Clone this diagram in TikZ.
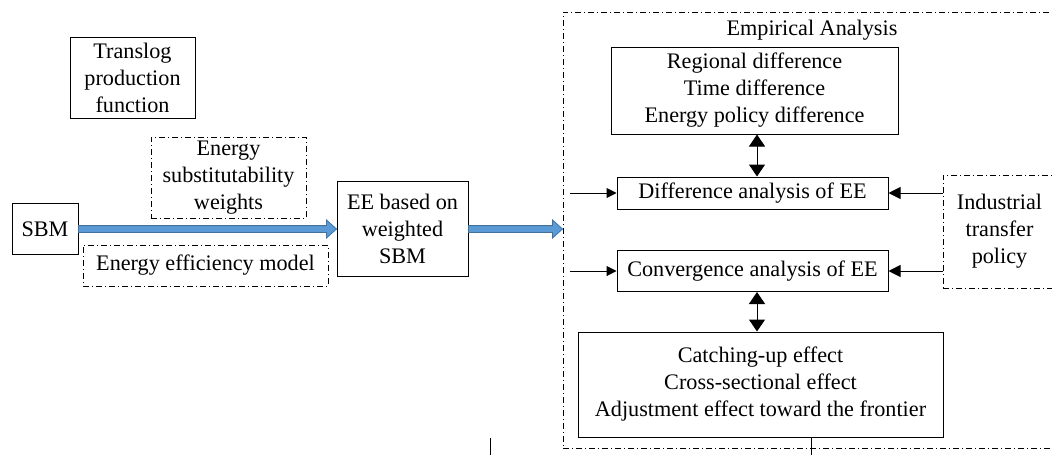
\documentclass[tikz,border=0pt]{standalone}
\usepackage{fontspec}
\setmainfont{Liberation Serif}
\newfontfamily\figfont{Liberation Serif}
\usetikzlibrary{arrows.meta, calc}
\definecolor{eeblue}{HTML}{5B9BD5}
\definecolor{eeblueline}{HTML}{41719C}
\tikzset{
  figtext/.style={font=\figfont\fontsize{11.1}{13.5}\selectfont},
  plainbox/.style={figtext, draw, line width=0.5pt, align=center, inner sep=0pt},
  dotbox/.style={plainbox, dash pattern=on 3pt off 1.5pt on 0.5pt off 1.5pt},
  dblarrow/.style={{Triangle[length=6pt,width=8pt]}-{Triangle[length=6pt,width=8pt]}, line width=0.5pt},
  thinarrow/.style={-{Triangle[length=5pt,width=5pt]}, line width=0.5pt},
  sidearrow/.style={-{Triangle[length=6pt,width=6pt]}, line width=0.5pt},
  fatarrow/.style={fill=eeblue, draw=eeblueline, line width=0.4pt}
}
\newcommand{\bluearrow}[2]{%
  \draw[fatarrow] let \p1=(#1), \p2=(#2) in
    (\x1,\y1+1.7pt) -- (\x2-5pt,\y1+1.7pt) -- (\x2-5pt,\y1+4.5pt) -- (\x2,\y1)
    -- (\x2-5pt,\y1-4.5pt) -- (\x2-5pt,\y1-1.7pt) -- (\x1,\y1-1.7pt) -- cycle;
}

\begin{document}
\begin{tikzpicture}[x=0.5pt, y=-0.5pt]
  \useasboundingbox (0,0) rectangle (1052,455);

  %% Model construction
  \node[plainbox, minimum width=62.5pt, minimum height=40.5pt] (translog) at (132.5,77.5)
    {Translog\\production\\function};
  \node[dotbox, minimum width=77.5pt, minimum height=40.5pt] (weights) at (228.5,177.5)
    {Energy\\substitutability\\weights};
  \node[plainbox, minimum width=33pt, minimum height=25.5pt] (sbm) at (45,229) {SBM};
  \node[dotbox, minimum width=122.5pt, minimum height=20.5pt] (effmodel) at (205.5,265.5)
    {Energy efficiency model};
  \node[plainbox, minimum width=65.5pt, minimum height=47.5pt] (wsbm) at (402.5,229)
    {EE based on\\weighted\\SBM};

  %% Empirical analysis frame
  \node[dotbox, minimum width=246.5pt, minimum height=218pt] (empirical) at (809.5,230) {};
  \node[figtext] (emptitle) at (812,30) {Empirical Analysis};

  \node[plainbox, minimum width=143.5pt, minimum height=43.5pt] (regional) at (754.5,90.5)
    {Regional difference\\Time difference\\Energy policy difference};
  \node[plainbox, minimum width=135.5pt, minimum height=16pt] (diff) at (752.5,193)
    {Difference analysis of EE};
  \node[plainbox, minimum width=135.5pt, minimum height=20.5pt] (conv) at (752.5,271)
    {Convergence analysis of EE};
  \node[plainbox, minimum width=182.5pt, minimum height=52.5pt] (catch) at (760.5,384.5)
    {Catching-up effect\\Cross-sectional effect\\Adjustment effect toward the frontier};
  \node[dotbox, minimum width=56.5pt, minimum height=56.5pt] (industry) at (999.5,231.5)
    {Industrial\\transfer\\policy};

  %% Connectors
  \bluearrow{sbm.east}{wsbm.west}
  \bluearrow{wsbm.east}{wsbm.east -| empirical.west}

  \coordinate (diffin) at (570,193);
  \coordinate (convin) at (570,271);
  \draw[thinarrow] (diffin) -- (diff.west);
  \draw[thinarrow] (convin) -- (conv.west);
  \draw[sidearrow] (industry.west |- diff.east) -- (diff.east);
  \draw[sidearrow] (industry.west |- conv.east) -- (conv.east);

  \draw[dblarrow] (regional.south -| 757,0) -- (diff.north -| 757,0);
  \draw[dblarrow] (conv.south -| 757,0) -- (catch.north -| 757,0);

  \coordinate (tailtop) at (811,437);
  \coordinate (tailend) at (811,455);
  \draw[line width=0.5pt] (tailtop) -- (tailend);
  \coordinate (straytop) at (490,438);
  \coordinate (strayend) at (490,455);
  \draw[line width=0.5pt] (straytop) -- (strayend);

\end{tikzpicture}
\end{document}
